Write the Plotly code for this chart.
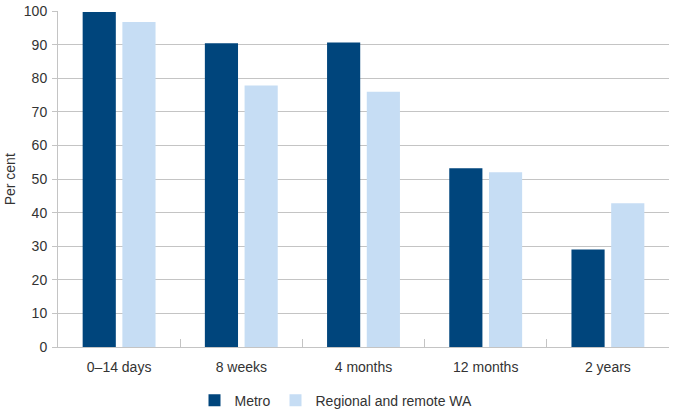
import plotly.graph_objects as go

categories = ["0\u201314 days", "8 weeks", "4 months", "12 months", "2 years"]
metro = [99.7, 90.4, 90.6, 53.2, 29.0]
regional = [96.7, 77.8, 76.0, 52.0, 42.8]

fig = go.Figure()
fig.add_trace(go.Bar(x=categories, y=metro, name="Metro", marker=dict(color="#00457c", line=dict(width=0))))
fig.add_trace(go.Bar(x=categories, y=regional, name="Regional and remote WA", marker=dict(color="#c6ddf4", line=dict(width=0))))

fig.update_layout(
    width=675, height=412,
    margin=dict(l=58, r=6, t=11, b=65, autoexpand=False),
    paper_bgcolor="white", plot_bgcolor="white",
    font=dict(family="Liberation Sans, Arial, sans-serif", size=14, color="#333333"),
    barmode="group", bargap=0.35, bargroupgap=0.165,
    legend=dict(orientation="h", x=0.455, xanchor="center", y=-0.16, yanchor="middle",
                font=dict(size=14), itemwidth=30, traceorder="normal"),
    showlegend=True,
)
fig.add_annotation(text="Per cent", textangle=-90, xref="paper", yref="paper",
                   x=-0.078, y=0.5, xanchor="center", yanchor="middle", showarrow=False,
                   font=dict(size=14, color="#333333"))
fig.update_yaxes(range=[0, 100], dtick=10, showgrid=True, gridcolor="#c4c4c4", gridwidth=1,
                 showline=True, linecolor="#c4c4c4", linewidth=1, ticks="outside", ticklen=5,
                 tickcolor="#c4c4c4", zeroline=False, automargin=False, ticklabelstandoff=2)
fig.update_xaxes(showline=True, linecolor="#c4c4c4", linewidth=1, ticks="inside", ticklen=8,
                 tickcolor="#c4c4c4", tickson="boundaries", showgrid=False, automargin=False,
                 ticklabelstandoff=7)

fig.write_html("out.html", config={"displayModeBar": False},
               post_script="document.body.style.margin='0';")
